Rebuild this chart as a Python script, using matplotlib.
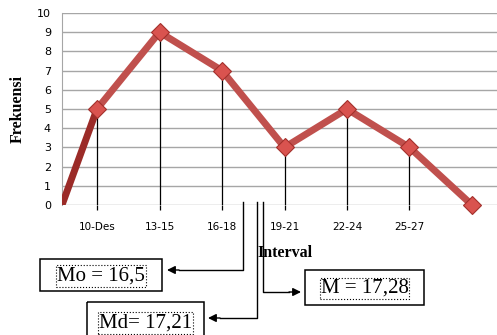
import matplotlib.pyplot as plt
from matplotlib.patches import Rectangle

# data
categories = ["10-Des", "13-15", "16-18", "19-21", "22-24", "25-27"]
cat_pos = [1, 2, 3, 4, 5, 6]
freq = [5, 9, 7, 3, 5, 3]
line_x = [0.44, 1, 2, 3, 4, 5, 6, 7]
line_y = [0, 5, 9, 7, 3, 5, 3, 0]
mo_label = "Mo = 16,5"
md_label = "Md= 17,21"
m_label = "M = 17,28"

fig = plt.figure(figsize=(4.97, 3.35), dpi=100)
ax = fig.add_axes([62/497, 1-205/335, 1-62/497, (205-13)/335])

ax.set_xlim(0.44, 7.4)
ax.set_ylim(0, 10)
for v in range(0, 11):
    ax.axhline(v, color="#a6a6a6", lw=1, zorder=1)
ax.vlines(cat_pos, 0, freq, color="black", lw=0.9, zorder=2)
ax.vlines(cat_pos, -0.25, 0, color="black", lw=0.9, zorder=2, clip_on=False)

ax.plot(line_x[:2], line_y[:2], color="#9b2b28", lw=5, zorder=3, solid_capstyle="butt")
ax.plot(line_x[1:], line_y[1:], color="#c0504d", lw=5, zorder=3, solid_joinstyle="miter")
ax.plot(line_x[1:], line_y[1:], "D", ms=9.5, color="#d9534f", mec="#a3302c", mew=0.8,
        zorder=4, clip_on=False)

for s in ["top", "right", "bottom"]:
    ax.spines[s].set_visible(False)
ax.spines["left"].set_color("#a6a6a6")
ax.set_yticks(range(0, 11))
ax.set_yticklabels([str(v) for v in range(0, 11)], fontsize=8)
ax.tick_params(axis="y", length=0, pad=8)
ax.set_xticks(cat_pos)
ax.set_xticklabels(categories, fontsize=7.5)
ax.tick_params(axis="x", length=0, pad=12)
ax.set_ylabel("Frekuensi", family="Liberation Serif", fontweight="bold", fontsize=11.5, labelpad=8)

# overlay in pixel coordinates for the annotation boxes
ov = fig.add_axes([0, 0, 1, 1], facecolor="none")
ov.set_xlim(0, 497)
ov.set_ylim(335, 0)
ov.axis("off")

ov.text(285, 253, "Interval", family="Liberation Serif", fontweight="bold",
        fontsize=11.5, ha="center", va="center")

def arrow_box(x_line, y_turn, x_end, box, label):
    step = 12 if x_end < x_line else -12
    ov.plot([x_line, x_line, x_end + step], [202, y_turn, y_turn], color="black", lw=1)
    ov.annotate("", xy=(x_end, y_turn), xytext=(x_end + step, y_turn),
                arrowprops=dict(arrowstyle="-|>", color="black", lw=1, mutation_scale=12,
                                shrinkA=0, shrinkB=0))
    bx, by, bw, bh = box
    ov.add_patch(Rectangle((bx, by), bw, bh, fill=False, ec="black", lw=1.1))
    ov.text(bx + bw/2, by + bh/2 + 1, label, family="Liberation Serif", fontsize=15,
            ha="center", va="center",
            bbox=dict(boxstyle="square,pad=0.05", fc="white", ec="black", ls=":", lw=0.8))

arrow_box(243, 270, 167, (40, 259, 122, 32), mo_label)
arrow_box(257, 318, 208, (87, 302, 117, 40), md_label)
arrow_box(263, 292, 301, (305, 270, 119, 35), m_label)

fig.savefig("out.png", dpi=100)
